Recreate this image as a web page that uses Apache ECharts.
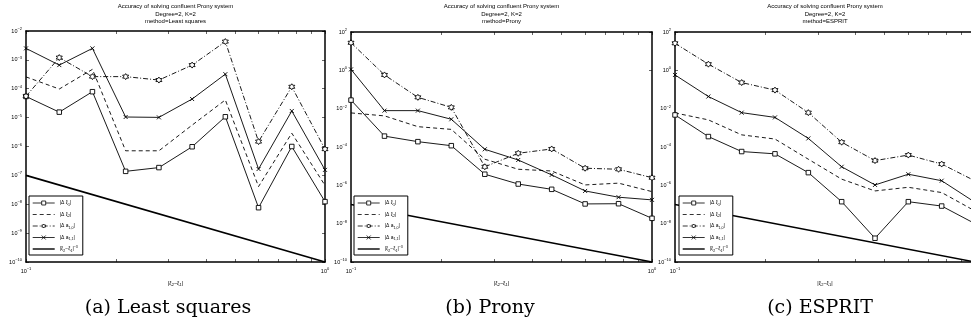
<!DOCTYPE html>
<html>
<head>
<meta charset="utf-8">
<script src="https://cdn.jsdelivr.net/npm/echarts@6/dist/echarts.min.js"></script>
<style>
body { margin: 0; background: #fff; }
#main { width: 971px; height: 324px; }
</style>
</head>
<body>
<div id="main"></div>
<script>
// |xi2 - xi1| sample points (evenly spaced on the log axis)
var xVals = [0.1, 0.1292, 0.1668, 0.2154, 0.2783, 0.3594, 0.4642, 0.5995, 0.7743, 1.0];

// (a) Least squares
var lsXi1 = [5.4e-5, 1.55e-5, 7.9e-5, 1.38e-7, 1.86e-7, 9.8e-7, 1.07e-5, 7.6e-9, 1.0e-6, 1.23e-8];
var lsXi2 = [2.57e-4, 9.8e-5, 4.7e-4, 7.1e-7, 7.1e-7, 5.5e-6, 4.1e-5, 4.1e-8, 2.9e-6, 4.5e-8];
var lsA10 = [5.5e-5, 1.2e-3, 2.63e-4, 2.63e-4, 2.0e-4, 6.6e-4, 4.3e-3, 1.48e-6, 1.17e-4, 8.1e-7];
var lsA11 = [2.5e-3, 6.6e-4, 2.5e-3, 1.05e-5, 1.02e-5, 4.4e-5, 3.2e-4, 1.66e-7, 1.7e-5, 1.55e-7];

// (b) Prony
var prXi1 = [2.8e-2, 3.7e-4, 1.9e-4, 1.17e-4, 3.8e-6, 1.17e-6, 6.2e-7, 1.07e-7, 1.1e-7, 1.9e-8];
var prXi2 = [6.0e-3, 4.2e-3, 1.15e-3, 8.3e-4, 2.3e-5, 6.9e-6, 5.6e-6, 1.05e-6, 1.3e-6, 4.7e-7];
var prA10 = [27.5, 0.575, 3.9e-2, 1.17e-2, 9.3e-6, 4.7e-5, 7.9e-5, 7.8e-6, 6.9e-6, 2.5e-6];
var prA11 = [1.12, 7.9e-3, 7.9e-3, 2.8e-3, 7.6e-5, 2.1e-5, 3.5e-6, 5.1e-7, 2.4e-7, 1.74e-7];

// (c) ESPRIT
var esXi1 = [4.7e-3, 3.5e-4, 5.8e-5, 4.4e-5, 4.6e-6, 1.4e-7, 1.74e-9, 1.4e-7, 8.3e-8, 1.0e-8];
var esXi2 = [6.0e-3, 2.6e-3, 4.3e-4, 2.6e-4, 2.3e-5, 2.1e-6, 5.1e-7, 7.9e-7, 4.2e-7, 4.6e-8];
var esA10 = [25.7, 2.1, 0.23, 9.3e-2, 6.2e-3, 1.78e-4, 1.95e-5, 3.8e-5, 1.29e-5, 1.7e-6];
var esA11 = [0.575, 4.3e-2, 6.2e-3, 3.5e-3, 2.8e-4, 9.3e-6, 1.05e-6, 3.8e-6, 1.74e-6, 1.3e-7];

// reference slope |xi2-xi1|^-3 (end points)
var refX = [0.1, 1];
var refY = [1e-7, 1e-10];

var xTicks = [0.1, 0.2, 0.3, 0.4, 0.5, 0.6, 0.7, 0.8, 0.9, 1];
var yLabelsWide = [1e-10, 1e-8, 1e-6, 1e-4, 1e-2, 1, 100];

var SANS = 'Liberation Sans';
var hexagram = 'path://M10,0L12.89,5L18.66,5L15.77,10L18.66,15L12.89,15L10,20L7.11,15L1.34,15L4.23,10L1.34,5L7.11,5Z';
var xMark = 'path://M0,0L10,10M10,0L0,10';

var panels = [
    {left: 26, top: 31, width: 299, height: 231, yMin: 1e-10, yMax: 1e-2, yLabels: null,
     method: 'Least squares', cap: '(a) Least squares', capX: 168, legLeft: 29,
     data: [lsXi1, lsXi2, lsA10, lsA11]},
    {left: 351, top: 32, width: 301, height: 230, yMin: 1e-10, yMax: 100, yLabels: yLabelsWide,
     method: 'Prony', cap: '(b) Prony', capX: 490, legLeft: 354,
     data: [prXi1, prXi2, prA10, prA11]},
    {left: 675, top: 32, width: 300, height: 230, yMin: 1e-10, yMax: 100, yLabels: yLabelsWide,
     method: 'ESPRIT', cap: '(c) ESPRIT', capX: 820, legLeft: 679,
     data: [esXi1, esXi2, esA10, esA11]}
];

var legendText = {
    xi1: '|\u0394 \u03be{s|1}|',
    xi2: '|\u0394 \u03be{s|2}|',
    a10: '|\u0394 a{s|1,0}|',
    a11: '|\u0394 a{s|1,1}|',
    ref: '|\u03be{s|2}\u2212\u03be{s|1}|{p|\u22123}'
};
var names = ['xi1', 'xi2', 'a10', 'a11', 'ref'];
// no marker for the plain lines in the legend, thicker line for the slope
var legendData = names.map(function (n) {
    if (n === 'xi2') return {name: n, itemStyle: {opacity: 0}};
    if (n === 'ref') return {name: n, itemStyle: {opacity: 0}, lineStyle: {width: 1.4}};
    return {name: n};
});

function powLabel(v) {
    var e = Math.round(Math.log10(v));
    return '10{e|' + (e < 0 ? '\u2212' + (-e) : e) + '}';
}

var labelStyle = {
    fontSize: 5.5, color: '#000', fontFamily: SANS,
    rich: {e: {fontSize: 4, color: '#000', fontFamily: SANS, padding: [0, 0, 4, 0]}}
};

var grid = [], xAxis = [], yAxis = [], series = [], title = [], legend = [];

panels.forEach(function (p, i) {
    grid.push({left: p.left, top: p.top, width: p.width, height: p.height, outerBoundsMode: 'none', containLabel: false});

    var axLine = {show: true, lineStyle: {color: '#000', width: 1.5}};
    // bottom x
    xAxis.push({
        type: 'log', logBase: 10, min: 0.1, max: 1, gridIndex: i, position: 'bottom',
        axisLine: axLine,
        axisTick: {inside: true, length: 3, customValues: xTicks, lineStyle: {color: '#000', width: 0.6}},
        axisLabel: Object.assign({margin: 5, formatter: powLabel}, labelStyle),
        splitLine: {show: false},
        name: '|\u03be{s|2}\u2212\u03be{s|1}|', nameLocation: 'middle', nameGap: 18,
        nameTextStyle: {fontSize: 5.5, color: '#000', fontFamily: SANS,
            rich: {s: {fontSize: 4, fontFamily: SANS, padding: [3, 0, 0, 0]}}}
    });
    // top x (box)
    xAxis.push({
        type: 'log', logBase: 10, min: 0.1, max: 1, gridIndex: i, position: 'top',
        axisLine: axLine,
        axisTick: {inside: true, length: 3, customValues: xTicks, lineStyle: {color: '#000', width: 0.6}},
        axisLabel: {show: false}, splitLine: {show: false}
    });
    var yLab = Object.assign({margin: 4, formatter: powLabel}, labelStyle);
    if (p.yLabels) yLab.customValues = p.yLabels;
    yAxis.push({
        type: 'log', logBase: 10, min: p.yMin, max: p.yMax, gridIndex: i, position: 'left',
        axisLine: axLine,
        axisTick: {inside: true, length: 3, lineStyle: {color: '#000', width: 0.6}},
        axisLabel: yLab, splitLine: {show: false}
    });
    yAxis.push({
        type: 'log', logBase: 10, min: p.yMin, max: p.yMax, gridIndex: i, position: 'right',
        axisLine: axLine,
        axisTick: {inside: true, length: 3, lineStyle: {color: '#000', width: 0.6}},
        axisLabel: {show: false}, splitLine: {show: false}
    });

    var styles = [
        {type: 'solid', symbol: 'rect', size: 4.5},
        {type: [4, 3], symbol: 'none', size: 0},
        {type: [5, 2, 1, 2], symbol: hexagram, size: 6},
        {type: 'solid', symbol: xMark, size: 4}
    ];
    p.data.forEach(function (vals, k) {
        var s = styles[k];
        series.push({
            name: names[k], type: 'line', xAxisIndex: i * 2, yAxisIndex: i * 2,
            data: xVals.map(function (x, j) { return [x, vals[j]]; }),
            symbol: s.symbol, symbolSize: s.size, showSymbol: s.symbol !== 'none',
            lineStyle: {color: '#000', width: 0.9, type: s.type},
            itemStyle: {color: '#fff', borderColor: '#000', borderWidth: 0.9},
            animation: false
        });
    });
    series.push({
        name: 'ref', type: 'line', xAxisIndex: i * 2, yAxisIndex: i * 2,
        data: refX.map(function (x, j) { return [x, refY[j]]; }),
        symbol: 'none', lineStyle: {color: '#000', width: 1.6},
        itemStyle: {color: '#000'}, animation: false
    });

    title.push({
        text: 'Accuracy of solving confluent Prony system\nDegree=2, K=2\nmethod=' + p.method,
        left: p.left + p.width / 2, top: 3, textAlign: 'center', padding: 0,
        textStyle: {fontSize: 6, fontWeight: 'normal', color: '#000', fontFamily: SANS, lineHeight: 7.5}
    });
    title.push({
        text: p.cap, left: p.capX, top: 299, textAlign: 'center', padding: 0,
        textStyle: {fontSize: 19, fontWeight: 'normal', color: '#000', fontFamily: 'DejaVu Serif'}
    });

    legend.push({
        data: legendData, orient: 'vertical', left: p.legLeft, top: 196,
        itemWidth: 22, itemHeight: 5, itemGap: 3.5, padding: [3, 5, 2, 3],
        backgroundColor: '#fff', borderColor: '#000', borderWidth: 1, borderRadius: 0,
        selectedMode: false,
        lineStyle: {width: 0.8},
        itemStyle: {borderWidth: 0.8},
        formatter: function (n) { return legendText[n]; },
        textStyle: {fontSize: 5, color: '#000', fontFamily: SANS, lineHeight: 8,
            rich: {s: {fontSize: 3.6, fontFamily: SANS, padding: [3, 0, 0, 0]},
                   p: {fontSize: 3.6, fontFamily: SANS, padding: [0, 0, 4, 0]}}}
    });
});

var chart = echarts.init(document.getElementById('main'));
chart.setOption({
    backgroundColor: '#fff',
    animation: false,
    title: title,
    legend: legend,
    grid: grid,
    xAxis: xAxis,
    yAxis: yAxis,
    series: series
});
</script>
</body>
</html>
